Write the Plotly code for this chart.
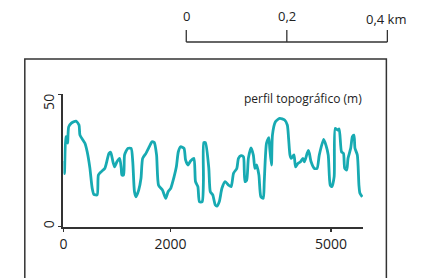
import plotly.graph_objects as go

# Topographic profile (distance in m, elevation in m)
distance = [0, 19, 50, 74, 80, 98, 148, 235, 291, 309, 402, 444, 494, 537, 569, 630,
            654, 709, 772, 802, 852, 883, 926, 957, 1000, 1050, 1080, 1093, 1124, 1143,
            1204, 1265, 1296, 1328, 1357, 1407, 1450, 1481, 1543, 1606, 1654, 1698, 1741,
            1778, 1852, 1913, 1957, 2006, 2069, 2111, 2148, 2191, 2254, 2283, 2328, 2376,
            2439, 2469, 2513, 2543, 2593, 2617, 2624, 2654, 2717, 2746, 2791, 2839, 2870,
            2913, 2963, 3024, 3087, 3135, 3180, 3241, 3272, 3320, 3365, 3380, 3394, 3426,
            3457, 3506, 3550, 3580, 3611, 3654, 3691, 3735, 3754, 3796, 3839, 3857, 3889,
            3907, 3963, 4043, 4135, 4185, 4209, 4235, 4259, 4309, 4339, 4383, 4431, 4476,
            4506, 4556, 4580, 4598, 4630, 4691, 4741, 4783, 4865, 4907, 4950, 4987, 5019,
            5061, 5080, 5124, 5154, 5198, 5235, 5259, 5296, 5320, 5370, 5402, 5431, 5450,
            5494, 5524, 5543, 5587]
elevation = [24.8, 20.1, 34.0, 34.0, 31.6, 37.7, 39.1, 39.9, 38.4, 34.6, 31.5, 28.3, 22.2,
             14.6, 12.2, 12.0, 19.5, 20.8, 22.0, 23.9, 27.7, 28.1, 24.5, 22.6, 24.5, 25.8,
             22.2, 19.5, 19.5, 27.1, 29.6, 29.6, 24.5, 13.2, 11.3, 13.8, 18.3, 25.8, 27.7,
             30.2, 32.1, 31.8, 27.1, 15.7, 13.8, 10.7, 13.2, 14.5, 18.9, 22.6, 28.3, 30.2,
             29.6, 25.2, 23.3, 24.8, 25.8, 17.0, 15.1, 9.4, 9.4, 17.6, 31.8, 31.8, 22.2,
             13.2, 12.0, 8.2, 7.8, 9.4, 14.5, 17.0, 15.7, 15.1, 20.2, 22.0, 25.8, 26.8,
             26.4, 21.4, 17.0, 17.6, 25.8, 29.8, 27.1, 22.0, 23.3, 19.5, 11.3, 10.7, 17.0,
             31.5, 33.6, 29.6, 23.3, 34.6, 39.6, 40.9, 40.3, 38.4, 33.4, 27.1, 25.8, 27.1,
             22.6, 23.9, 24.5, 25.8, 24.5, 27.7, 28.8, 27.7, 24.5, 22.0, 22.0, 27.1, 33.0,
             30.8, 27.1, 15.7, 15.1, 18.9, 37.1, 36.5, 36.9, 28.3, 27.7, 22.0, 21.4, 25.8,
             29.6, 34.0, 34.6, 29.6, 27.1, 15.7, 12.6, 11.3]

x_ticks = [0, 2000, 5000]
x_tick_labels = ["0", "2000", "5000"]
y_ticks = [0, 50]
y_tick_labels = ["0", "50"]

scale_km = [0, 0.2, 0.4]
scale_labels = ["0", "0,2", "0,4 km"]

title_text = "perfil topográfico (m)"

W, H = 426, 278
FONT = "Open Sans"
AX = "#333333"
TEAL = "#17aab2"


def px(x):
    return x / W


def py(y):
    return 1 - y / H


fig = go.Figure()
fig.add_trace(go.Scatter(
    x=distance, y=elevation, mode="lines",
    line=dict(color=TEAL, width=2.8, shape="spline", smoothing=0.6),
    hoverinfo="skip", showlegend=False,
))

shapes = []
annotations = []
# outer frame
shapes.append(dict(type="rect", xref="paper", yref="paper",
                   x0=px(21), x1=px(386), y0=py(59), y1=py(300),
                   line=dict(color=AX, width=1.5), fillcolor="rgba(0,0,0,0)"))

# scale bar
sb_x0, sb_x1 = 184, 387
sb_y_line, sb_y_top = 42, 30


def sbx(km):
    return sb_x0 + km * (sb_x1 - sb_x0) / scale_km[-1]


shapes.append(dict(type="line", xref="paper", yref="paper",
                   x0=px(sbx(scale_km[0])), x1=px(sbx(scale_km[-1])),
                   y0=py(sb_y_line), y1=py(sb_y_line),
                   line=dict(color=AX, width=1.3)))
for k, lab in zip(scale_km, scale_labels):
    shapes.append(dict(type="line", xref="paper", yref="paper",
                       x0=px(sbx(k)), x1=px(sbx(k)),
                       y0=py(sb_y_top), y1=py(sb_y_line),
                       line=dict(color=AX, width=1.3)))
    if lab.endswith("km"):
        annotations.append(dict(text=lab, xref="paper", yref="paper",
                                x=px(sbx(k) - 24), y=py(18.5), xanchor="left",
                                yanchor="middle", showarrow=False,
                                font=dict(family=FONT, size=13, color="#222")))
    else:
        annotations.append(dict(text=lab, xref="paper", yref="paper",
                                x=px(sbx(k)), y=py(16), xanchor="center",
                                yanchor="middle", showarrow=False,
                                font=dict(family=FONT, size=13, color="#222")))

# y tick labels (rotated), placed at data values
for v, lab in zip(y_ticks, y_tick_labels):
    annotations.append(dict(text=lab, xref="paper", yref="y", x=px(45), y=v,
                            xanchor="center", yanchor="middle", textangle=-90,
                            yshift=(-8 if v > 0 else 2), showarrow=False,
                            font=dict(family=FONT, size=14, color="#222")))

annotations.append(dict(text=title_text, xref="paper", yref="paper",
                        x=px(363), y=py(98), xanchor="right", yanchor="middle",
                        showarrow=False,
                        font=dict(family=FONT, size=12, color="#222")))

fig.update_layout(
    width=W, height=H,
    margin=dict(l=0, r=0, t=0, b=0),
    paper_bgcolor="white", plot_bgcolor="white",
    shapes=shapes, annotations=annotations,
    xaxis=dict(domain=[px(60), px(362.4)], range=[0, 5600],
               showgrid=False, zeroline=False, showline=True,
               linecolor=AX, linewidth=2,
               tickmode="array", tickvals=x_ticks, ticktext=x_tick_labels,
               ticks="outside", ticklen=3, tickwidth=1.5, tickcolor=AX,
               tickfont=dict(family=FONT, size=14, color="#222")),
    yaxis=dict(domain=[py(226.7), py(94.3)], range=[0, 50],
               showgrid=False, zeroline=False, showline=True,
               linecolor=AX, linewidth=2,
               tickmode="array", tickvals=y_ticks, ticktext=y_tick_labels,
               showticklabels=False,
               ticks="outside", ticklen=3, tickwidth=1.5, tickcolor=AX),
)

fig.write_html("out.html",
               config={"displayModeBar": False, "staticPlot": True},
               post_script="document.body.style.margin='0';document.body.style.overflow='hidden';")
